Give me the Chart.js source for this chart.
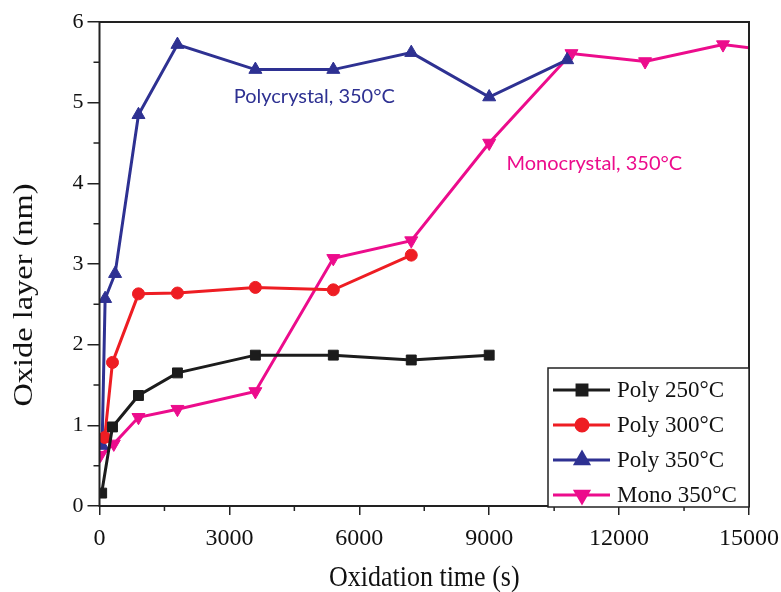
<!DOCTYPE html>
<html>
<head>
<meta charset="utf-8">
<script src="https://cdn.jsdelivr.net/npm/chart.js@4.4.1/dist/chart.umd.min.js"></script>
<style>
html,body{margin:0;padding:0;background:#fff;}
#wrap{width:781px;height:592px;position:relative;}
</style>
</head>
<body>
<div id="wrap"><canvas id="c" width="781" height="592"></canvas></div>
<script>
// ---- data ----
const seriesLabels = ["Poly 250°C", "Poly 300°C", "Poly 350°C", "Mono 350°C"];
const timesPoly250 = [50, 300, 900, 1800, 3600, 5400, 7200, 9000];
const poly250 = [0.16, 0.98, 1.37, 1.65, 1.87, 1.87, 1.81, 1.87];
const timesPoly300 = [120, 300, 900, 1800, 3600, 5400, 7200];
const poly300 = [0.85, 1.78, 2.63, 2.64, 2.71, 2.68, 3.11];
const timesPoly350 = [60, 130, 360, 900, 1800, 3600, 5400, 7200, 9000, 10800];
const poly350 = [0.75, 2.57, 2.88, 4.85, 5.72, 5.41, 5.41, 5.62, 5.07, 5.53];
const timesMono350 = [20, 330, 900, 1800, 3600, 5400, 7200, 9000, 10900, 12600, 14400, 15300];
const mono350 = [0.63, 0.77, 1.10, 1.20, 1.42, 3.07, 3.29, 4.50, 5.61, 5.51, 5.72, 5.66];
const xTicks = [0, 3000, 6000, 9000, 12000, 15000];
const yTicks = [0, 1, 2, 3, 4, 5, 6];
const annotations = [
  {text: "Polycrystal, 350°C", x: 3100, y: 5.07, color: "#2e3192"},
  {text: "Monocrystal, 350°C", x: 9400, y: 4.25, color: "#ec0c8c"}
];

const colors = ["#1c1c1c", "#ee1d23", "#2e3192", "#ec0c8c"];
const shapes = ["rect", "circle", "triangle", "triangle"];
const rotations = [0, 0, 0, 180];
const radii = [7, 6, 7.5, 7.5];

function pts(xs, ys){ return xs.map((x,i)=>({x:x, y:ys[i]})); }
const allX = [timesPoly250, timesPoly300, timesPoly350, timesMono350];
const allY = [poly250, poly300, poly350, mono350];

const datasets = allY.map((ys, i) => ({
  label: seriesLabels[i],
  data: pts(allX[i], ys),
  borderColor: colors[i],
  backgroundColor: colors[i],
  borderWidth: 3,
  pointStyle: shapes[i],
  pointRotation: rotations[i],
  pointRadius: allX[i].map(x => x > 15000 ? 0 : radii[i]),
  pointHoverRadius: radii[i],
  pointBorderWidth: 1,
  tension: 0
}));

const serif = "'Liberation Serif', 'Times New Roman', serif";

const framePlugin = {
  id: 'frame',
  afterDraw(chart){
    const {ctx, chartArea: a, scales} = chart;
    const xs = scales.x, ys = scales.y;
    ctx.save();
    // frame
    ctx.strokeStyle = '#222';
    ctx.lineWidth = 2;
    ctx.strokeRect(a.left, a.top, a.right - a.left, a.bottom - a.top);
    // minor ticks
    ctx.lineWidth = 1.5;
    ctx.beginPath();
    for (let v = 0.5; v < 6; v += 1) {
      const y = ys.getPixelForValue(v);
      ctx.moveTo(a.left - 6, y); ctx.lineTo(a.left, y);
    }
    for (let v = 1500; v < 15000; v += 3000) {
      const x = xs.getPixelForValue(v);
      ctx.moveTo(x, a.bottom); ctx.lineTo(x, a.bottom + 5);
    }
    ctx.stroke();

    // annotations
    ctx.font = "20px Lato, 'Open Sans', sans-serif";
    ctx.textAlign = 'left';
    ctx.textBaseline = 'middle';
    annotations.forEach(an => {
      ctx.fillStyle = an.color;
      ctx.fillText(an.text, xs.getPixelForValue(an.x), ys.getPixelForValue(an.y));
    });

    // axis titles
    ctx.fillStyle = '#111';
    ctx.font = "26px " + serif;
    ctx.textAlign = 'center';
    ctx.save();
    ctx.translate((a.left + a.right) / 2, 578);
    ctx.scale(1, 1.15);
    ctx.fillText("Oxidation time (s)", 0, 0);
    ctx.restore();
    ctx.save();
    ctx.translate(25, 295);
    ctx.rotate(-Math.PI / 2);
    ctx.scale(1.2, 1);
    ctx.font = "27px " + serif;
    ctx.fillText("Oxide layer (nm)", 0, 0);
    ctx.restore();

    // legend
    const L = 548, T = 368, R = a.right, B = a.bottom + 1;
    ctx.fillStyle = '#fff';
    ctx.fillRect(L, T, R - L, B - T);
    ctx.strokeStyle = '#222';
    ctx.lineWidth = 1.5;
    ctx.strokeRect(L, T, R - L, B - T);
    ctx.font = "23px " + serif;
    ctx.textAlign = 'left';
    ctx.textBaseline = 'middle';
    chart.data.datasets.forEach((ds, i) => {
      const y = T + 22 + i * 35;
      ctx.strokeStyle = ds.borderColor;
      ctx.lineWidth = 3;
      ctx.beginPath(); ctx.moveTo(L + 5, y); ctx.lineTo(L + 62, y); ctx.stroke();
      ctx.fillStyle = ds.borderColor;
      Chart.helpers.drawPoint(ctx, {pointStyle: ds.pointStyle, rotation: ds.pointRotation, radius: radii[i], borderWidth: 1}, L + 34, y);
      ctx.fillStyle = '#111';
      ctx.fillText(ds.label, L + 69, y + 1);
    });
    ctx.restore();
  }
};

new Chart(document.getElementById('c'), {
  type: 'line',
  data: { datasets },
  plugins: [framePlugin],
  options: {
    responsive: false,
    animation: false,
    devicePixelRatio: 1,
    layout: { padding: { top: 22, right: 32, left: 0, bottom: 0 } },
    plugins: { legend: { display: false }, tooltip: { enabled: false } },
    scales: {
      x: {
        type: 'linear', min: 0, max: 15000,
        afterFit(s){ s.height = 86; s.paddingLeft = 0; s.paddingRight = 0; },
        afterBuildTicks(s){ s.ticks = xTicks.map(v => ({value: v})); },
        ticks: { color: '#111', font: { family: serif, size: 24 }, padding: 9, maxRotation: 0,
                 callback: v => String(v) },
        grid: { drawOnChartArea: false, drawTicks: true, tickLength: 9, color: '#222', lineWidth: 1.5 },
        border: { display: false }
      },
      y: {
        type: 'linear', min: 0, max: 6,
        afterFit(s){ s.width = 99.5; s.paddingTop = 0; s.paddingBottom = 0; },
        afterBuildTicks(s){ s.ticks = yTicks.map(v => ({value: v})); },
        ticks: { color: '#111', font: { family: serif, size: 22 }, padding: 4 },
        grid: { drawOnChartArea: false, drawTicks: true, tickLength: 12, color: '#222', lineWidth: 1.5 },
        border: { display: false }
      }
    }
  }
});
</script>
</body>
</html>
